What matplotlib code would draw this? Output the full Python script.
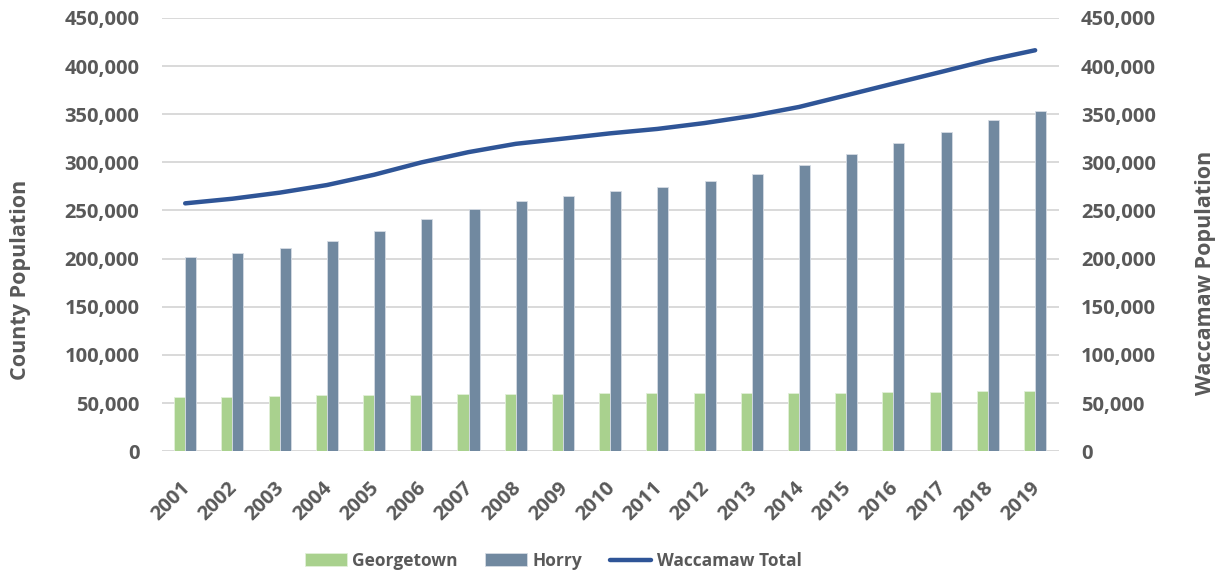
import numpy as np
import matplotlib
matplotlib.use("Agg")
import matplotlib.pyplot as plt
import matplotlib.transforms as mtransforms
from matplotlib.ticker import FuncFormatter

# Waccamaw region population, county bars + regional total line
years = [str(y) for y in range(2001, 2020)]
georgetown = [55800, 56400, 57500, 58200, 58500, 58800, 59100, 59400, 59600, 60100,
              60000, 60200, 60000, 60300, 60900, 61400, 61900, 62300, 62700]
horry = [201600, 205800, 211000, 218200, 228600, 241100, 251500, 259800, 265000, 270000,
         274700, 280600, 288200, 297200, 308700, 320400, 331900, 343700, 353700]
waccamaw_total = [257400, 262200, 268500, 276400, 287100, 299900, 310600, 319200, 324600, 330100,
                  334700, 340800, 348200, 357500, 369600, 381800, 393800, 406000, 416400]

txt_col = "#595959"
plt.rcParams['font.family'] = ['Open Sans', 'DejaVu Sans']
plt.rcParams['font.weight'] = 'bold'

fig = plt.figure(figsize=(12.24, 5.77), dpi=100)
ax = fig.add_axes([0.132, 0.218, 0.733, 0.751])
ax2 = ax.twinx()

x = np.arange(len(years))
w = 0.233
ax.bar(x - w/2, georgetown, w, color="#A9D18E", edgecolor="#E2F0D9", linewidth=0.6,
       label="Georgetown", zorder=2)
ax.bar(x + w/2, horry, w, color="#7189A0", edgecolor="#D6DCE4", linewidth=0.6,
       label="Horry", zorder=2)
ax2.plot(x, waccamaw_total, color="#2F5597", linewidth=3.2, solid_capstyle="round",
         label="Waccamaw Total")

for a in (ax, ax2):
    a.set_ylim(0, 450000)
    a.set_yticks(np.arange(0, 450001, 50000))
    a.yaxis.set_major_formatter(FuncFormatter(lambda v, p: f"{int(v):,}"))
    a.tick_params(axis='y', length=0, labelsize=14.5, labelcolor=txt_col, pad=16)
    for s in a.spines.values():
        s.set_visible(False)
for lab in ax.get_yticklabels() + ax2.get_yticklabels():
    lab.set_fontweight('bold')
ax.set_xlim(-0.5, len(years) - 0.5)
ax.grid(axis='y', color="#D9D9D9", linewidth=1.4, zorder=0)
ax.set_axisbelow(True)
ax.axhline(0, color="#D9D9D9", linewidth=1.4, zorder=1)

ax.set_xticks(x)
ax.set_xticklabels(years, rotation=45, ha='right', rotation_mode='anchor', fontweight='bold')
ax.tick_params(axis='x', length=0, labelsize=14.5, labelcolor=txt_col, pad=19)
# nudge year labels a little left, like the original
shift = mtransforms.ScaledTranslation(-5 / 100, 0, fig.dpi_scale_trans)
for lab in ax.get_xticklabels():
    lab.set_transform(lab.get_transform() + shift)

ax.set_ylabel("County Population", fontsize=15.5, color=txt_col, fontweight='bold')
ax2.set_ylabel("Waccamaw Population", fontsize=15.5, color=txt_col, fontweight='bold')
ax.yaxis.set_label_coords(-0.145, 0.395)
ax2.yaxis.set_label_coords(1.152, 0.411)

h1, l1 = ax.get_legend_handles_labels()
h2, l2 = ax2.get_legend_handles_labels()
fig.legend(h1 + h2, l1 + l2, loc='center', bbox_to_anchor=(0.452, 0.028), ncol=3,
           frameon=False, labelcolor=txt_col, handlelength=2.4,
           handleheight=0.8, handletextpad=0.3, columnspacing=1.6,
           prop={'weight': 'bold', 'size': 12.5})

fig.savefig("out.png", dpi=100)
